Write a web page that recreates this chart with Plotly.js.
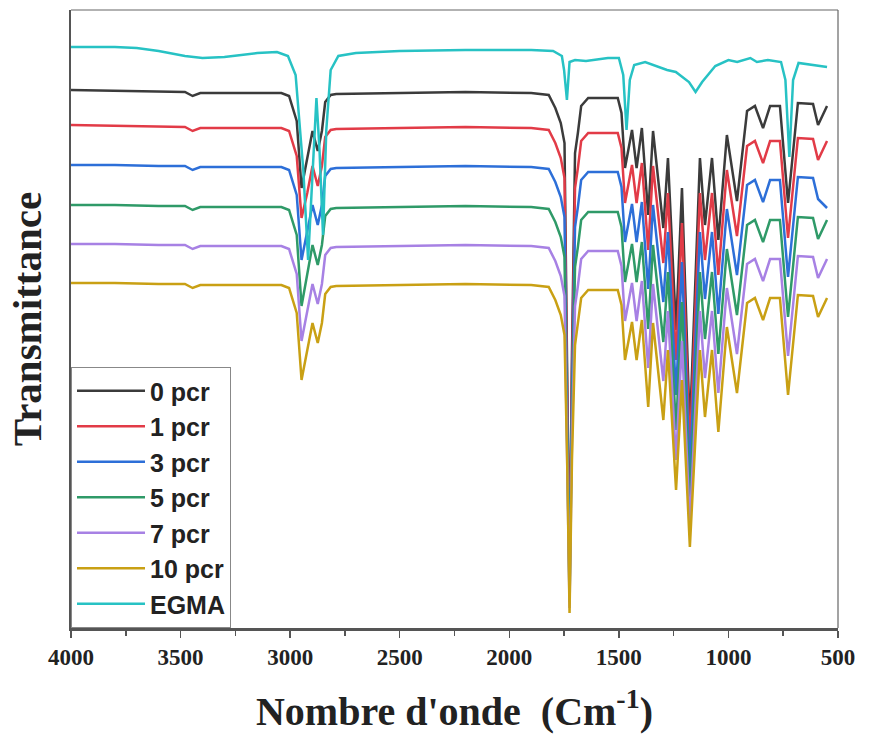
<!DOCTYPE html>
<html>
<head>
<meta charset="utf-8">
<script src="https://cdn.plot.ly/plotly-3.0.1.min.js"></script>
<style>html,body{margin:0;padding:0;background:#fff;} #chart{width:883px;height:754px;}</style>
</head>
<body>
<div id="chart"></div>
<script>
// Wavenumber grid (cm-1) shared by the composite spectra
const wn = [4000,3800,3600,3480,3445,3410,3200,3040,3005,2970,2948,2922,2898,2874,2855,2840,2815,2790,2500,2200,
  1900,1820,1790,1765,1748,1736,1725,1714,1700,1687,1672,1640,1560,1505,1488,1472,1440,1419,1395,1366,
  1344,1297,1276,1239,1212,1176,1130,1107,1075,1046,1007,961,915,879,842,810,765,728,683,614,591,550];

// Transmittance (offset, arbitrary units)
const t0 = [538,537,536,536,532,535,535,535,532,507,440,470,497,477,497,526,533,534,535,536,
  535,533,520,505,485,273,48,273,475,495,522,530,530,530,515,460,498,460,500,413,
  497,400,470,298,440,198,470,403,470,388,493,427,517,522,500,522,522,425,525,524,503,522];
const t1 = [503,502,501,501,497,500,500,500,497,472,410,435,462,442,462,491,498,499,500,501,
  500,498,485,470,450,253,40,253,440,460,487,495,495,495,480,425,463,425,465,378,
  462,365,435,268,405,178,435,368,435,353,458,392,482,487,465,487,487,390,490,489,468,487];
const t3 = [463,463,462,462,458,461,461,461,458,433,368,396,423,403,423,452,459,460,461,462,
  461,459,446,431,411,230,33,230,401,421,448,456,456,456,441,386,424,386,426,339,
  423,326,396,233,366,153,396,329,396,314,419,353,443,448,426,448,448,351,451,450,429,420];
const t5 = [423,423,422,422,418,421,421,421,418,393,322,356,383,363,383,412,419,420,421,422,
  421,419,406,391,371,208,26,208,361,381,408,416,416,416,401,346,384,346,386,299,
  383,286,356,198,326,125,356,289,356,274,379,313,403,408,386,408,408,311,411,410,389,408];
const t7 = [384,384,383,383,379,382,382,382,379,354,287,317,344,324,344,373,380,381,382,383,
  382,380,367,352,332,188,20,188,322,342,369,377,377,377,362,307,345,307,347,260,
  344,247,317,168,287,103,317,250,317,235,340,274,364,369,347,369,369,272,372,371,350,369];
const t10 = [345,345,344,344,340,343,343,343,340,315,248,278,305,285,305,334,341,342,343,344,
  343,341,328,313,293,168,15,168,283,303,330,338,338,338,323,268,306,268,308,221,
  305,208,278,138,248,81,278,211,278,196,301,235,325,330,308,330,330,233,333,332,311,330];

// EGMA spectrum
const wnEgma = [4000,3800,3700,3600,3480,3400,3300,3150,3060,3010,2975,2940,2918,2900,2880,2866,2850,2835,2815,2780,
  2700,2500,2200,1900,1800,1760,1750,1737,1725,1700,1650,1550,1500,1480,1465,1450,1430,1380,1330,1280,
  1240,1180,1150,1120,1060,1000,960,900,870,820,760,740,722,705,680,600,550];
const tEgma = [581,581,580,577,572,570,571,575,576,572,553,458,368,448,530,478,393,498,558,572,
  575,577,578,578,577,572,558,528,566,568,567,570,570,553,498,548,563,566,562,558,
  556,546,536,546,562,568,566,570,566,568,566,548,471,548,565,563,561];

const names = ['0 pcr','1 pcr','3 pcr','5 pcr','7 pcr','10 pcr','EGMA'];
const colors = ['#3b3b3b','#e23b47','#2d6fd8','#2f9a68','#a781e4','#c9a014','#27c2c4'];
const series = [t0,t1,t3,t5,t7,t10];

const traces = series.map((s,i)=>({
  x: wn, y: s, type:'scatter', mode:'lines', name: names[i],
  line:{color:colors[i], width:2.5}
}));
traces.push({x: wnEgma, y: tEgma, type:'scatter', mode:'lines', name: names[6],
  line:{color:colors[6], width:2.5}});

const layout = {
  width: 883, height: 754,
  margin: {l:71, r:45, t:10, b:126},
  paper_bgcolor:'#fff', plot_bgcolor:'#fff',
  showlegend: true,
  legend: {
    x: 0, y: 0, xanchor:'left', yanchor:'bottom',
    bgcolor:'#fff', bordercolor:'#888', borderwidth:1,
    font: {family:'Liberation Sans, Arial, sans-serif', size:25, color:'#222', weight:'bold'},
    itemwidth: 68, tracegroupgap: 0, traceorder:'normal'
  },
  xaxis: {
    range: [4000, 500], autorange: false,
    showgrid:false, zeroline:false,
    showline:true, linecolor:'#555', linewidth:2.5, mirror:false,
    ticks:'outside', ticklen:7, tickwidth:1.5, tickcolor:'#555',
    tick0: 500, dtick: 500,
    minor: {ticks:'outside', ticklen:5, tickwidth:1.5, tickcolor:'#555', dtick:250, tick0:250},
    tickfont: {family:'Liberation Serif, Times New Roman, serif', size:23, color:'#222', weight:'bold'},
    title: {text:"Nombre d'onde\u00a0 (Cm<sup>-1</sup>)", standoff: 28,
      font:{family:'Liberation Serif, Times New Roman, serif', size:40, color:'#222', weight:'bold'}}
  },
  yaxis: {
    range: [0, 618], autorange:false,
    showgrid:false, zeroline:false, showticklabels:false, ticks:'',
    showline:true, linecolor:'#555', linewidth:2.5, mirror:false,
    title: {text:'Transmittance', standoff: 14,
      font:{family:'Liberation Serif, Times New Roman, serif', size:41, color:'#222', weight:'bold'}}
  },
  shapes: [
    {type:'line', xref:'paper', yref:'paper', x0:0, x1:1, y0:1, y1:1, line:{color:'#666', width:1.2}},
    {type:'line', xref:'paper', yref:'paper', x0:1, x1:1, y0:0, y1:1, line:{color:'#666', width:1.2}}
  ]
};

Plotly.newPlot('chart', traces, layout, {displayModeBar:false, staticPlot:true});
</script>
</body>
</html>
